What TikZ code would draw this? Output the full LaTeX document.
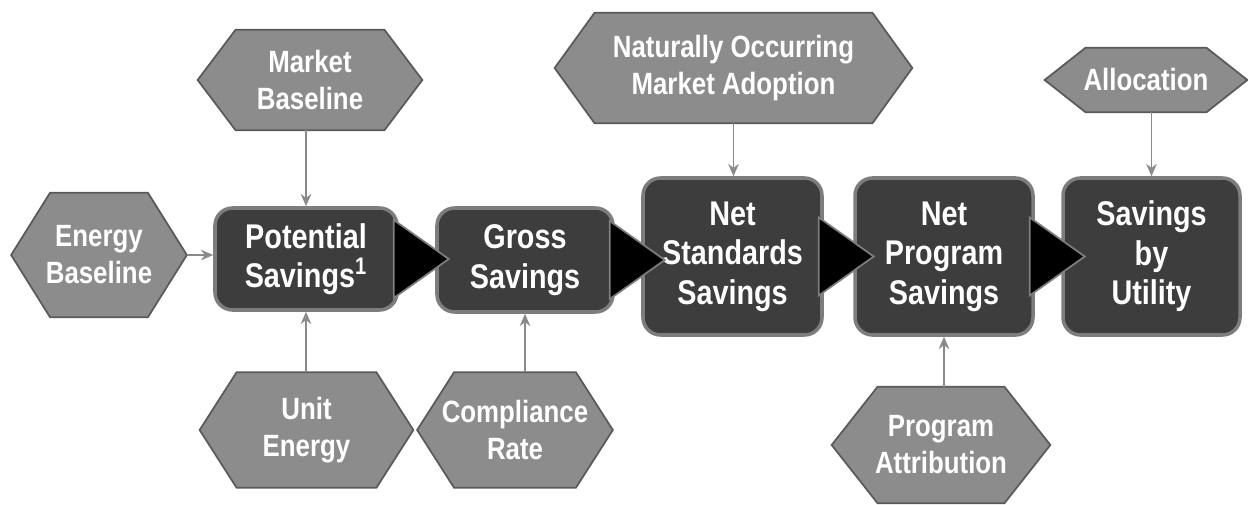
\documentclass[tikz,border=0pt]{standalone}
\usepackage{fontspec}
\setmainfont{Liberation Sans}[FakeStretch=0.84]
\usetikzlibrary{arrows.meta, positioning, backgrounds}

\definecolor{hexgray}{HTML}{8C8C8C}
\definecolor{hexedge}{HTML}{5A5A5A}
\definecolor{boxdark}{HTML}{3D3D3D}
\definecolor{boxedge}{HTML}{7D7D7D}
\definecolor{linkgray}{HTML}{8A8A8A}

\begin{document}
\begin{tikzpicture}[
    stage/.style={draw=boxedge, line width=2pt, fill=boxdark, rounded corners=0.35cm, text=white, font=\bfseries\fontsize{19.5}{22.5}\selectfont, align=center, inner sep=0pt},
    input/.style={text=white, font=\bfseries\fontsize{17.5}{21}\selectfont, align=center, inner sep=0pt},
    hexfill/.style={draw=hexedge, line width=1pt, fill=hexgray},
    chevron/.style={draw=boxedge, line width=1pt, fill=black},
    link/.style={draw=linkgray, line width=1pt, -{Stealth[length=7pt, width=6pt]}}
]
\useasboundingbox (0,0) rectangle (24.96,10.1);

% Inputs (hexagons are filled in on the background layer below)
\node[input, minimum width=3.5cm, minimum height=2.48cm] (eb) at (1.98,5.0) {Energy\\Baseline};
\node[input, minimum width=4.48cm, minimum height=2.0cm] (mb) at (6.2,8.5) {Market\\Baseline};
\node[input, minimum width=4.26cm, minimum height=2.3cm] (ue) at (6.13,1.5) {Unit\\Energy};
\node[input, minimum width=3.9cm, minimum height=2.3cm] (cr) at (10.3,1.5) {Compliance\\Rate};
\node[input, minimum width=7.14cm, minimum height=2.2cm] (noma) at (14.67,8.74) {Naturally Occurring\\Market Adoption};
\node[input, minimum width=4.36cm, minimum height=2.32cm] (pa) at (18.82,1.2) {Program\\Attribution};
\node[input, minimum width=4.04cm, minimum height=1.28cm] (al) at (22.92,8.5) {Allocation};

\begin{scope}[on background layer]
\foreach \n/\s in {eb/0.78, mb/0.76, ue/0.74, cr/0.74, noma/0.8, pa/0.92, al/0.82} {
    \draw[hexfill] (\n.west) -- ([xshift=\s cm]\n.north west) -- ([xshift=-\s cm]\n.north east)
        -- (\n.east) -- ([xshift=-\s cm]\n.south east) -- ([xshift=\s cm]\n.south west) -- cycle;
}
\end{scope}

% Savings stages
\node[stage, minimum width=3.64cm, minimum height=2.04cm] (ps) at (6.12,4.92) {Potential\\Savings\textsuperscript{1}};
\node[stage, minimum width=3.52cm, minimum height=2.08cm] (gs) at (10.5,4.9) {Gross\\Savings};
\node[stage, minimum width=3.58cm, minimum height=3.14cm] (nss) at (14.65,4.97) {Net\\Standards\\Savings};
\node[stage, minimum width=3.56cm, minimum height=3.14cm] (nps) at (18.88,4.97) {Net\\Program\\Savings};
\node[stage, minimum width=3.54cm, minimum height=3.14cm] (su) at (23.03,4.97) {Savings\\by\\Utility};

% Chevrons between stages
\foreach \a in {ps, gs, nss, nps} {
    \draw[chevron] ([xshift=-0.1cm, yshift=0.78cm]\a.east) -- ([xshift=1.0cm]\a.east)
        -- ([xshift=-0.1cm, yshift=-0.78cm]\a.east) -- cycle;
}

% Input arrows
\draw[link] (eb.east) -- (eb.east -| ps.west);
\draw[link] (ps.north |- mb.south) -- (ps.north);
\draw[link] (ps.south |- ue.north) -- (ps.south);
\draw[link] (gs.south |- cr.north) -- (gs.south);
\draw[link] (noma.south) -- (noma.south |- nss.north);
\draw[link] (nps.south |- pa.north) -- (nps.south);
\draw[link] (su.north |- al.south) -- (su.north);

\end{tikzpicture}
\end{document}
